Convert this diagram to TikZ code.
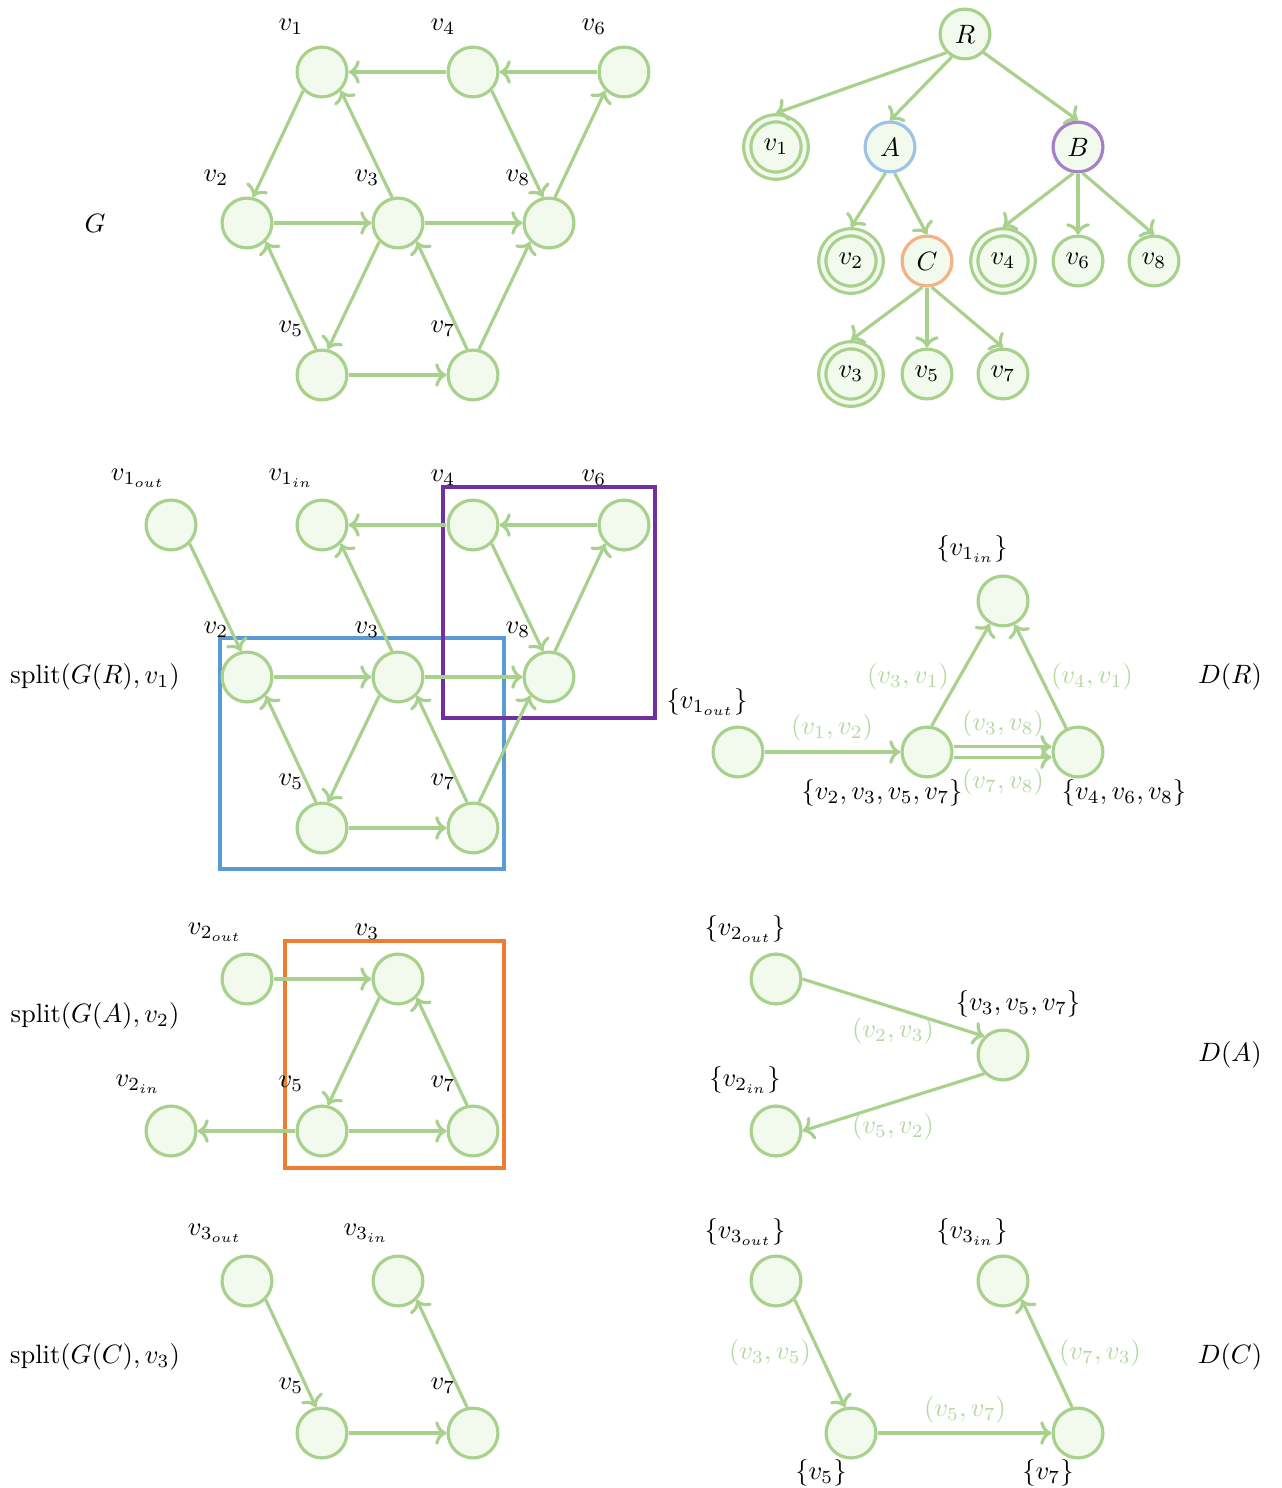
\documentclass[tikz,border=0pt]{standalone}
\usetikzlibrary{arrows.meta}
\definecolor{lgreen}{HTML}{A9D18E}
\definecolor{lfill}{HTML}{F1FAEC}
\definecolor{lblue}{HTML}{9DC3E6}
\definecolor{lpurple}{HTML}{A680C8}
\definecolor{lorange}{HTML}{F4B183}
\definecolor{bblue}{HTML}{5B9BD5}
\definecolor{bpurple}{HTML}{7030A0}
\definecolor{borange}{HTML}{ED7D31}
\definecolor{elbl}{HTML}{B4D8A0}
\begin{document}
\begin{tikzpicture}[x=0.013245cm,y=-0.013245cm,
  vtx/.style={circle,draw=lgreen,fill=lfill,line width=1.2pt,minimum size=0.66cm,inner sep=0pt},
  dvtx/.style={vtx,double=lfill,double distance=1.5pt,minimum size=0.76cm,outer sep=1.95pt},
  edge/.style={draw=lgreen,line width=1.2pt,->},
  lab/.style={inner sep=0pt},
  elab/.style={inner sep=0pt,text=elbl},
  grp/.style={line width=1.2pt}]
\useasboundingbox (0,0) rectangle (1282,1488);

% ---------------- G ----------------
\node[vtx] (g1) at (322,72) {};
\node[vtx] (g4) at (473,72) {};
\node[vtx] (g6) at (624,72) {};
\node[vtx] (g2) at (247,223) {};
\node[vtx] (g3) at (398,223) {};
\node[vtx] (g8) at (549,223) {};
\node[vtx] (g5) at (322,375) {};
\node[vtx] (g7) at (473,375) {};
\draw[edge] (g4) -- (g1);
\draw[edge] (g6) -- (g4);
\draw[edge] (g1.south west) -- (g2.77);
\draw[edge] (g3.103) -- (g1.south east);
\draw[edge] (g4.south east) -- (g8.103);
\draw[edge] (g8.77) -- (g6.south west);
\draw[edge] (g2) -- (g3);
\draw[edge] (g3) -- (g8);
\draw[edge] (g5.103) -- (g2.south east);
\draw[edge] (g3.south west) -- (g5.77);
\draw[edge] (g7.103) -- (g3.south east);
\draw[edge] (g7.77) -- (g8.south west);
\draw[edge] (g5) -- (g7);
\node[lab] (tG) at (95,223) {$G$};
\node[lab] (gl1) at (291,27) {$v_1$};
\node[lab] (gl4) at (443,27) {$v_4$};
\node[lab] (gl6) at (594,27) {$v_6$};
\node[lab] (gl2) at (216,178) {$v_2$};
\node[lab] (gl3) at (367,178) {$v_3$};
\node[lab] (gl8) at (518,178) {$v_8$};
\node[lab] (gl5) at (291,329) {$v_5$};
\node[lab] (gl7) at (443,329) {$v_7$};

% ---------------- tree ----------------
\node[vtx] (tR) at (965,34) {$R$};
\node[dvtx] (t1) at (776,147) {$v_1$};
\node[vtx,draw=lblue] (tA) at (890,147) {$A$};
\node[vtx,draw=lpurple] (tB) at (1078,147) {$B$};
\node[dvtx] (t2) at (851,261) {$v_2$};
\node[vtx,draw=lorange] (tC) at (927,261) {$C$};
\node[dvtx] (t4) at (1003,261) {$v_4$};
\node[vtx] (t6) at (1078,261) {$v_6$};
\node[vtx] (t8) at (1154,261) {$v_8$};
\node[dvtx] (t3) at (851,374) {$v_3$};
\node[vtx] (t5) at (927,374) {$v_5$};
\node[vtx] (t7) at (1003,374) {$v_7$};
\draw[edge] (tR.south west) -- (t1.north);
\draw[edge] (tR.-120) -- (tA.north);
\draw[edge] (tR.south east) -- (tB.north);
\draw[edge] (tA.-100) -- (t2.north);
\draw[edge] (tA.-80) -- (tC.north);
\draw[edge] (tB.-100) -- (t4.north);
\draw[edge] (tB.south) -- (t6.north);
\draw[edge] (tB.-80) -- (t8.north);
\draw[edge] (tC.-100) -- (t3.north);
\draw[edge] (tC.south) -- (t5.north);
\draw[edge] (tC.-80) -- (t7.north);

% ---------------- split(G(R),v1) ----------------
\draw[grp,draw=bblue] (220,638) rectangle (504,869);
\draw[grp,draw=bpurple] (443,487) rectangle (655,718);
\node[vtx] (a1o) at (171,525) {};
\node[vtx] (a1i) at (322,525) {};
\node[vtx] (a4) at (473,525) {};
\node[vtx] (a6) at (624,525) {};
\node[vtx] (a2) at (247,677) {};
\node[vtx] (a3) at (398,677) {};
\node[vtx] (a8) at (549,677) {};
\node[vtx] (a5) at (322,828) {};
\node[vtx] (a7) at (473,828) {};
\draw[edge] (a1o.south east) -- (a2.103);
\draw[edge] (a4) -- (a1i);
\draw[edge] (a6) -- (a4);
\draw[edge] (a3.103) -- (a1i.south east);
\draw[edge] (a4.south east) -- (a8.103);
\draw[edge] (a8.77) -- (a6.south west);
\draw[edge] (a2) -- (a3);
\draw[edge] (a3) -- (a8);
\draw[edge] (a5.103) -- (a2.south east);
\draw[edge] (a3.south west) -- (a5.77);
\draw[edge] (a7.103) -- (a3.south east);
\draw[edge] (a7.77) -- (a8.south west);
\draw[edge] (a5) -- (a7);
\node[lab] (tS1) at (95,677) {split$(G(R),v_1)$};
\node[lab] (al1o) at (138,478) {$v_{1_{out}}$};
\node[lab] (al1i) at (291,478) {$v_{1_{in}}$};
\node[lab] (al4) at (443,478) {$v_4$};
\node[lab] (al6) at (594,478) {$v_6$};
\node[lab] (al2) at (216,630) {$v_2$};
\node[lab] (al3) at (367,630) {$v_3$};
\node[lab] (al8) at (518,630) {$v_8$};
\node[lab] (al5) at (291,782) {$v_5$};
\node[lab] (al7) at (443,782) {$v_7$};

% ---------------- D(R) ----------------
\node[vtx] (r1i) at (1003,601) {};
\node[vtx] (r1o) at (738,752) {};
\node[vtx] (rm) at (927,752) {};
\node[vtx] (rr) at (1078,752) {};
\draw[edge] (r1o) -- (rm);
\draw[edge] (rm.80) -- (r1i);
\draw[edge] (rr) -- (r1i);
\draw[edge] ([yshift=2pt]rm.east) -- ([yshift=2pt]rr.west);
\draw[edge] ([yshift=-2pt]rm.east) -- ([yshift=-2pt]rr.west);
\node[lab] (tDR) at (1230,677) {$D(R)$};
\node[lab] (rl1i) at (972,549) {$\{v_{1_{in}}\}$};
\node[lab] (rl1o) at (707,702) {$\{v_{1_{out}}\}$};
\node[lab] (rlm) at (882,793) {$\{v_2,v_3,v_5,v_7\}$};
\node[lab] (rlr) at (1124,793) {$\{v_4,v_6,v_8\}$};
\node[elab] (re1) at (832,728) {$(v_1,v_2)$};
\node[elab] (re2) at (908,677) {$(v_3,v_1)$};
\node[elab] (re3) at (1092,677) {$(v_4,v_1)$};
\node[elab] (re4) at (1003,724) {$(v_3,v_8)$};
\node[elab] (re5) at (1003,782) {$(v_7,v_8)$};

% ---------------- split(G(A),v2) ----------------
\draw[grp,draw=borange] (285,941) rectangle (504,1168);
\node[vtx] (b2o) at (247,979) {};
\node[vtx] (b3) at (398,979) {};
\node[vtx] (b2i) at (171,1131) {};
\node[vtx] (b5) at (322,1131) {};
\node[vtx] (b7) at (473,1131) {};
\draw[edge] (b2o) -- (b3);
\draw[edge] (b3.south west) -- (b5.77);
\draw[edge] (b7.103) -- (b3.south east);
\draw[edge] (b5) -- (b7);
\draw[edge] (b5) -- (b2i);
\node[lab] (tS2) at (95,1016) {split$(G(A),v_2)$};
\node[lab] (bl2o) at (215,932) {$v_{2_{out}}$};
\node[lab] (bl3) at (367,932) {$v_3$};
\node[lab] (bl2i) at (138,1084) {$v_{2_{in}}$};
\node[lab] (bl5) at (291,1084) {$v_5$};
\node[lab] (bl7) at (443,1084) {$v_7$};

% ---------------- D(A) ----------------
\node[vtx] (q2o) at (776,979) {};
\node[vtx] (qm) at (1003,1055) {};
\node[vtx] (q2i) at (776,1131) {};
\draw[edge] (q2o.east) -- (qm.north west);
\draw[edge] (qm.south west) -- (q2i.east);
\node[lab] (tDA) at (1230,1055) {$D(A)$};
\node[lab] (ql2o) at (745,929) {$\{v_{2_{out}}\}$};
\node[lab] (qlm) at (1018,1004) {$\{v_3,v_5,v_7\}$};
\node[lab] (ql2i) at (745,1080) {$\{v_{2_{in}}\}$};
\node[elab] (qe1) at (893,1031) {$(v_2,v_3)$};
\node[elab] (qe2) at (893,1127) {$(v_5,v_2)$};

% ---------------- split(G(C),v3) ----------------
\node[vtx] (c3o) at (247,1281) {};
\node[vtx] (c3i) at (398,1281) {};
\node[vtx] (c5) at (322,1433) {};
\node[vtx] (c7) at (473,1433) {};
\draw[edge] (c3o.south east) -- (c5.103);
\draw[edge] (c5) -- (c7);
\draw[edge] (c7.103) -- (c3i.south east);
\node[lab] (tS3) at (95,1357) {split$(G(C),v_3)$};
\node[lab] (cl3o) at (215,1233) {$v_{3_{out}}$};
\node[lab] (cl3i) at (366,1233) {$v_{3_{in}}$};
\node[lab] (cl5) at (291,1386) {$v_5$};
\node[lab] (cl7) at (443,1386) {$v_7$};

% ---------------- D(C) ----------------
\node[vtx] (p3o) at (776,1281) {};
\node[vtx] (p3i) at (1003,1281) {};
\node[vtx] (p5) at (851,1433) {};
\node[vtx] (p7) at (1078,1433) {};
\draw[edge] (p3o.south east) -- (p5.103);
\draw[edge] (p5) -- (p7);
\draw[edge] (p7.103) -- (p3i.south east);
\node[lab] (tDC) at (1230,1357) {$D(C)$};
\node[lab] (pl3o) at (745,1232) {$\{v_{3_{out}}\}$};
\node[lab] (pl3i) at (972,1232) {$\{v_{3_{in}}\}$};
\node[lab] (pl5) at (821,1473) {$\{v_5\}$};
\node[lab] (pl7) at (1048,1473) {$\{v_7\}$};
\node[elab] (pe1) at (770,1353) {$(v_3,v_5)$};
\node[elab] (pe2) at (965,1410) {$(v_5,v_7)$};
\node[elab] (pe3) at (1100,1353) {$(v_7,v_3)$};
\end{tikzpicture}
\end{document}
